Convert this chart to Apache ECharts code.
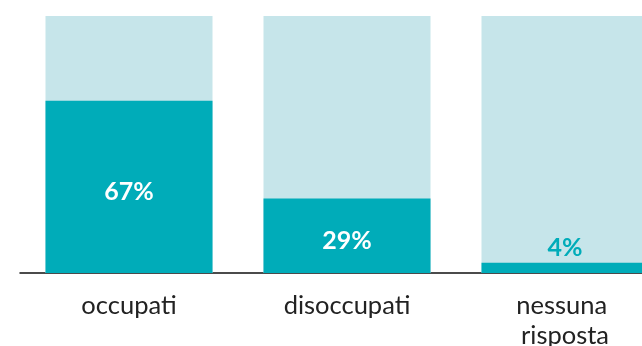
<!DOCTYPE html>
<html><head><meta charset="utf-8">
<script src="https://cdn.jsdelivr.net/npm/echarts@6/dist/echarts.min.js"></script>
<style>html,body{margin:0;padding:0;background:#fff}#c{width:642px;height:346px}</style>
</head><body><div id="c"></div>
<script>
var categories = ['occupati', 'disoccupati', 'nessuna risposta'];
var values = [67, 29, 4];

var teal = '#00acb9';
var chart = echarts.init(document.getElementById('c'), null, {renderer: 'canvas'});
chart.setOption({
  animation: false,
  grid: {left: 20, width: 654, top: 16, height: 257, containLabel: false, outerBoundsMode: 'none'},
  xAxis: {
    type: 'category', data: categories,
    axisLine: {show: true, lineStyle: {color: '#111', width: 1.5}},
    axisTick: {show: false},
    axisLabel: {
      color: '#222', fontFamily: 'Lato', fontSize: 25.5, margin: 18,
      lineHeight: 30, width: 150, overflow: 'break', interval: 0
    }
  },
  yAxis: {type: 'value', min: 0, max: 100, show: false, splitLine: {show: false}},
  series: [{
    type: 'bar',
    data: values.map(function (v) {
      var small = v < 10;
      return {
        value: v,
        label: {
          show: true,
          position: small ? 'top' : 'inside',
          offset: small ? [0, 0] : [0, 5],
          distance: 2,
          color: small ? teal : '#fff',
          fontFamily: 'Lato', fontWeight: 'bold', fontSize: 25,
          formatter: '{c}%'
        }
      };
    }),
    barWidth: 167,
    itemStyle: {color: teal},
    showBackground: true,
    backgroundStyle: {color: '#c6e5ea'}
  }]
});
</script></body></html>
